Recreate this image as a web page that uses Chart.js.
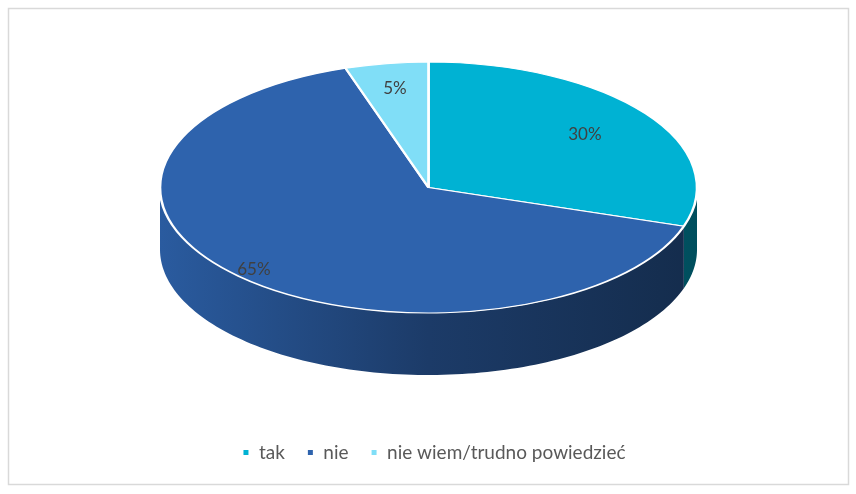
<!DOCTYPE html>
<html><head><meta charset="utf-8">
<script src="https://cdn.jsdelivr.net/npm/chart.js@4/dist/chart.umd.min.js"></script>
<style>html,body{margin:0;padding:0;background:#fff}canvas{display:block}</style>
</head><body>
<canvas id="c" width="856" height="494"></canvas>
<script>
const categories = ['tak', 'nie', 'nie wiem/trudno powiedzieć'];
const values = [30, 65, 5];
const valueLabels = ['30%', '65%', '5%'];
const colors = ['#00B2D3', '#2E63AD', '#80DEF7'];

function shade(hex, k) {
  const n = parseInt(hex.slice(1), 16);
  const r = Math.round(((n >> 16) & 255) * k), g = Math.round(((n >> 8) & 255) * k), b = Math.round((n & 255) * k);
  return `rgb(${r},${g},${b})`;
}

const pie3d = {
  id: 'pie3d',
  beforeDraw(chart, args, o) {
    const ctx = chart.ctx;
    ctx.save();
    ctx.strokeStyle = '#D9D9D9';
    ctx.lineWidth = 1.5;
    ctx.strokeRect(8.5, 8.5, 840, 476);
    ctx.restore();
  },
  beforeDatasetsDraw(chart, args, o) {
    const ctx = chart.ctx;
    const arcs = chart.getDatasetMeta(0).data;
    const { cx, cy, rx, ry, depth } = o;
    // sides (front half only)
    arcs.forEach((arc, i) => {
      let a = Math.max(arc.startAngle, 0), b = Math.min(arc.endAngle, Math.PI);
      if (b <= a) return;
      const g = ctx.createLinearGradient(cx - rx, 0, cx + rx, 0);
      g.addColorStop(0, shade(colors[i], 0.92));
      g.addColorStop(0.5, shade(colors[i], 0.6));
      g.addColorStop(1, shade(colors[i], 0.44));
      ctx.save();
      ctx.beginPath();
      const N = 120;
      for (let k = 0; k <= N; k++) {
        const t = a + (b - a) * k / N;
        const x = cx + rx * Math.cos(t), y = cy + ry * Math.sin(t);
        k === 0 ? ctx.moveTo(x, y) : ctx.lineTo(x, y);
      }
      for (let k = N; k >= 0; k--) {
        const t = a + (b - a) * k / N;
        ctx.lineTo(cx + rx * Math.cos(t), cy + ry * Math.sin(t) + depth);
      }
      ctx.closePath();
      ctx.fillStyle = g;
      ctx.fill();
      ctx.restore();
    });
    // squash the library's pie into the top ellipse
    const a0 = arcs[0];
    const R = a0.outerRadius;
    ctx.save();
    ctx.translate(cx, cy);
    ctx.scale(rx / R, ry / R);
    ctx.translate(-a0.x, -a0.y);
  },
  afterDatasetsDraw(chart, args, o) {
    const ctx = chart.ctx;
    ctx.restore();
    const arcs = chart.getDatasetMeta(0).data;
    const { cx, cy, rx, ry, labelFrac } = o;
    ctx.save();
    ctx.font = '17px Lato';
    ctx.fillStyle = '#404040';
    ctx.textAlign = 'center';
    ctx.textBaseline = 'middle';
    arcs.forEach((arc, i) => {
      const m = (arc.startAngle + arc.endAngle) / 2;
      const f = labelFrac[i];
      ctx.fillText(valueLabels[i], cx + rx * f * Math.cos(m), cy + ry * f * Math.sin(m));
    });
    ctx.restore();
  }
};

new Chart(document.getElementById('c'), {
  type: 'pie',
  data: {
    labels: categories,
    datasets: [{ data: values, backgroundColor: colors, borderColor: '#FFFFFF', borderWidth: 2 }]
  },
  options: {
    responsive: false,
    animation: false,
    layout: { padding: { top: 10, bottom: 22, left: 22, right: 10 } },
    plugins: {
      tooltip: { enabled: false },
      legend: {
        position: 'bottom',
        labels: {
          boxWidth: 7, boxHeight: 7, padding: 22,
          color: '#595959',
          font: { family: 'Lato', size: 19 }
        }
      },
      pie3d: { cx: 428.5, cy: 187.5, rx: 268.5, ry: 125.5, depth: 62, labelFrac: [0.72, 0.92, 0.8] }
    }
  },
  plugins: [pie3d]
});
</script>
</body></html>
